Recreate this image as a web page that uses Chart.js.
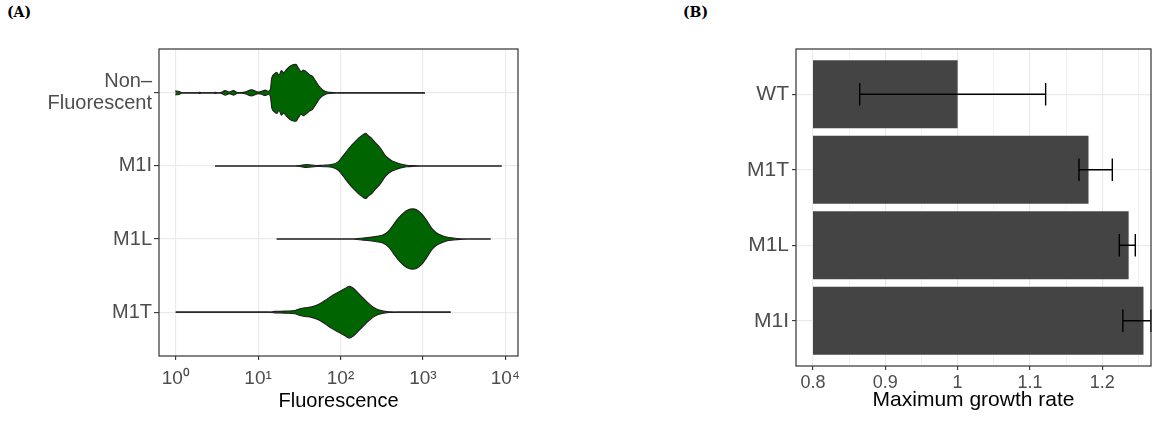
<!DOCTYPE html>
<html>
<head>
<meta charset="utf-8">
<script src="https://cdn.jsdelivr.net/npm/chart.js@4.4.1/dist/chart.umd.min.js"></script>
<style>
  html, body { margin: 0; padding: 0; background: #ffffff; }
  #wrap { position: relative; width: 1161px; height: 421px; overflow: hidden; }
  canvas { position: absolute; top: 0; }
  #cvA { left: 0; }
  #cvB { left: 580px; }
  .tag { position: absolute; top: 5px; font: bold 14px "DejaVu Serif", serif; line-height: 14px; color: #000; }
</style>
</head>
<body>
<div id="wrap">
  <div class="tag" style="left:7px">(A)</div>
  <div class="tag" style="left:683px">(B)</div>
  <canvas id="cvA" width="580" height="421"></canvas>
  <canvas id="cvB" width="581" height="421"></canvas>
</div>
<script>
// ---------- Panel A: fluorescence violins (log10 scale) ----------
const violinCats = [['Non–', 'Fluorescent'], 'M1I', 'M1L', 'M1T'];

// outline of each violin: log10 fluorescence and half-width (in category units)
const nfLog  = [-0.005, 0.03, 0.07, 0.11, 0.26, 0.29, 0.32, 0.45, 0.48, 0.51, 0.55, 0.598, 0.651, 0.699, 0.75, 0.80, 0.841, 0.922, 1.003, 1.045, 1.084, 1.125, 1.150,
                1.165, 1.197, 1.225, 1.254, 1.282, 1.310, 1.347, 1.387, 1.428, 1.460, 1.488, 1.521, 1.549, 1.589, 1.622, 1.658, 1.699, 1.739, 1.780, 1.820, 1.873, 1.933, 1.98, 3.025];
const nfHalf = [0.027, 0.023, 0.005, 0, 0, 0.008, 0, 0, 0.008, 0, 0.004, 0.031, 0.011, 0.031, 0.005, 0.004, 0.011, 0.041, 0.011, 0.020, 0.037, 0.020, 0.055,
                0.201, 0.259, 0.282, 0.239, 0.304, 0.277, 0.323, 0.364, 0.386, 0.389, 0.341, 0.291, 0.311, 0.284, 0.250, 0.228, 0.160, 0.091, 0.045, 0.018, 0.007, 0.004, 0, 0];

const m1iLog  = [0.477, 1.45, 1.508, 1.589, 1.711, 1.76, 1.812, 1.893, 1.974, 2.014, 2.055, 2.095, 2.136, 2.176, 2.216, 2.257, 2.305, 2.338, 2.378, 2.419, 2.459, 2.500, 2.540, 2.580, 2.621, 2.682, 2.742, 2.803, 2.90, 2.98, 3.956];
const m1iHalf = [0, 0, 0.007, 0.020, 0.007, 0.008, 0.011, 0.018, 0.059, 0.113, 0.173, 0.232, 0.286, 0.332, 0.378, 0.413, 0.446, 0.413, 0.378, 0.323, 0.277, 0.218, 0.150, 0.105, 0.072, 0.045, 0.023, 0.010, 0.004, 0, 0];

const m1lLog  = [1.225, 2.15, 2.237, 2.358, 2.439, 2.520, 2.580, 2.641, 2.702, 2.762, 2.823, 2.876, 2.924, 2.985, 3.046, 3.106, 3.167, 3.228, 3.288, 3.369, 3.450, 3.53, 3.822];
const m1lHalf = [0, 0, 0.010, 0.023, 0.037, 0.059, 0.105, 0.195, 0.286, 0.355, 0.400, 0.413, 0.400, 0.345, 0.255, 0.150, 0.082, 0.050, 0.027, 0.014, 0.004, 0, 0];

const m1tLog  = [0.0, 1.12, 1.205, 1.327, 1.448, 1.509, 1.569, 1.650, 1.731, 1.812, 1.893, 1.974, 2.055, 2.107, 2.156, 2.216, 2.277, 2.338, 2.398, 2.459, 2.540, 2.621, 2.70, 3.337];
const m1tHalf = [0, 0, 0.010, 0.014, 0.023, 0.045, 0.059, 0.072, 0.105, 0.160, 0.222, 0.273, 0.323, 0.355, 0.327, 0.259, 0.191, 0.123, 0.068, 0.031, 0.010, 0.004, 0, 0];

const fluorTicks = [0, 1, 2, 3, 4];
const fluorTickLabels = ['10⁰', '10¹', '10²', '10³', '10⁴'];

// ---------- Panel B: maximum growth rate ----------
const strains    = ['WT', 'M1T', 'M1L', 'M1I'];
const growthRate = [1.000, 1.181, 1.2365, 1.257];
const growthLow  = [0.8646, 1.1678, 1.2236, 1.2285];
const growthHigh = [1.1217, 1.2139, 1.2457, 1.2672];
const barBase    = 0.8;
const growthMajor = [0.8, 0.9, 1.0, 1.1, 1.2];
const growthMajorLabels = ['0.8', '0.9', '1', '1.1', '1.2'];
const growthMinor = [0.85, 0.95, 1.05, 1.15, 1.25];

const FAMILY = '"Liberation Sans", Arial, sans-serif';
const GRID = '#EBEBEB';
const AXIS_TEXT = '#4D4D4D';
const FRAME = '#333333';

// full rectangle around the plotting panel
const panelFrame = {
  id: 'panelFrame',
  afterDraw(chart) {
    const { ctx, chartArea: a } = chart;
    ctx.save();
    ctx.strokeStyle = FRAME;
    ctx.lineWidth = 1.2;
    ctx.strokeRect(a.left, a.top, a.right - a.left, a.bottom - a.top);
    ctx.restore();
  }
};

// horizontal error bars with end caps
const errorBars = {
  id: 'errorBars',
  afterDatasetsDraw(chart) {
    const { ctx } = chart;
    const xs = chart.scales.x, ys = chart.scales.y;
    const cap = Math.abs(ys.getPixelForValue(1) - ys.getPixelForValue(0)) * 0.15;
    ctx.save();
    ctx.strokeStyle = '#000000';
    ctx.lineWidth = 1.4;
    strains.forEach((s, i) => {
      const y = ys.getPixelForValue(i);
      const x1 = xs.getPixelForValue(growthLow[i]);
      const x2 = xs.getPixelForValue(growthHigh[i]);
      ctx.beginPath();
      ctx.moveTo(x1, y); ctx.lineTo(x2, y);
      ctx.moveTo(x1, y - cap); ctx.lineTo(x1, y + cap);
      ctx.moveTo(x2, y - cap); ctx.lineTo(x2, y + cap);
      ctx.stroke();
    });
    ctx.restore();
  }
};

// build an upper and a lower outline per violin; the lower one fills back to the upper
const violinLogs = [nfLog, m1iLog, m1lLog, m1tLog];
const violinHalf = [nfHalf, m1iHalf, m1lHalf, m1tHalf];
const violinSets = [];
violinLogs.forEach((xs, k) => {
  const half = violinHalf[k];
  const common = { showLine: true, borderColor: '#1f1f1f', borderWidth: 1.1, pointRadius: 0, cubicInterpolationMode: 'monotone' };
  violinSets.push(Object.assign({ data: xs.map((x, j) => ({ x, y: k - half[j] })), fill: false }, common));
  violinSets.push(Object.assign({ data: xs.map((x, j) => ({ x, y: k + half[j] })), fill: '-1', backgroundColor: '#006400' }, common));
});

new Chart(document.getElementById('cvA'), {
  type: 'scatter',
  data: { datasets: violinSets },
  options: {
    responsive: false,
    animation: false,
    events: [],
    layout: { padding: { top: 49, right: 62, left: 0, bottom: 0 } },
    plugins: { legend: { display: false }, tooltip: { enabled: false } },
    scales: {
      x: {
        type: 'linear', min: -0.2027, max: 4.154,
        afterBuildTicks: s => { s.ticks = fluorTicks.map(v => ({ value: v })); },
        afterFit: s => { s.height = 65; },
        ticks: {
          callback: v => fluorTickLabels[fluorTicks.indexOf(v)],
          font: { family: FAMILY, size: 19 }, color: AXIS_TEXT, padding: 7,
          maxRotation: 0, autoSkip: false
        },
        grid: { color: GRID, lineWidth: 1.2, tickLength: 4, tickColor: FRAME, tickWidth: 1.1 },
        border: { display: false },
        title: { display: true, text: 'Fluorescence', color: '#000000', font: { family: FAMILY, size: 20 }, padding: { top: 0, bottom: 8 } }
      },
      y: {
        type: 'linear', reverse: true, min: -0.6, max: 3.6,
        afterBuildTicks: s => { s.ticks = violinCats.map((c, i) => ({ value: i })); },
        afterFit: s => { s.width = 159; },
        ticks: {
          callback: v => violinCats[v],
          font: { family: FAMILY, size: 20, lineHeight: 1.1 }, color: AXIS_TEXT, padding: 2, autoSkip: false
        },
        grid: { color: GRID, lineWidth: 1.2, tickLength: 5, tickColor: FRAME, tickWidth: 1.1 },
        border: { display: false }
      }
    }
  },
  plugins: [panelFrame]
});

const isMajor = v => growthMajor.some(m => Math.abs(m - v) < 1e-9);

new Chart(document.getElementById('cvB'), {
  type: 'bar',
  data: {
    datasets: [{
      data: strains.map((s, i) => ({ x: [barBase, growthRate[i]], y: i })),
      backgroundColor: '#444444',
      borderWidth: 0,
      barPercentage: 0.9,
      categoryPercentage: 1.0
    }]
  },
  options: {
    indexAxis: 'y',
    responsive: false,
    animation: false,
    events: [],
    layout: { padding: { top: 49, right: 10, left: 0, bottom: 0 } },
    plugins: { legend: { display: false }, tooltip: { enabled: false } },
    scales: {
      x: {
        type: 'linear', min: 0.7765, max: 1.2674,
        afterBuildTicks: s => { s.ticks = growthMajor.concat(growthMinor).sort((a, b) => a - b).map(v => ({ value: v })); },
        afterFit: s => { s.height = 55; },
        ticks: {
          callback: v => { const k = growthMajor.findIndex(m => Math.abs(m - v) < 1e-9); return k >= 0 ? growthMajorLabels[k] : ''; },
          font: { family: FAMILY, size: 18 }, color: AXIS_TEXT, padding: 2,
          maxRotation: 0, autoSkip: false
        },
        grid: {
          color: GRID,
          lineWidth: c => (c.tick && isMajor(c.tick.value)) ? 1.2 : 0.6,
          tickLength: 4,
          tickColor: c => (c.tick && isMajor(c.tick.value)) ? FRAME : 'rgba(0,0,0,0)',
          tickWidth: 1.1
        },
        border: { display: false },
        title: { display: true, text: 'Maximum growth rate', color: '#000000', font: { family: FAMILY, size: 21 }, padding: { top: 0, bottom: 8 } }
      },
      y: {
        type: 'linear', reverse: true, min: -0.6, max: 3.6, offset: false,
        afterBuildTicks: s => { s.ticks = strains.map((c, i) => ({ value: i })); },
        afterFit: s => { s.width = 216; },
        ticks: {
          callback: v => strains[v],
          font: { family: FAMILY, size: 21 }, color: AXIS_TEXT, padding: 3, autoSkip: false
        },
        grid: { offset: false, color: GRID, lineWidth: 1.2, tickLength: 4, tickColor: FRAME, tickWidth: 1.1 },
        border: { display: false }
      }
    }
  },
  plugins: [errorBars, panelFrame]
});
</script>
</body>
</html>
